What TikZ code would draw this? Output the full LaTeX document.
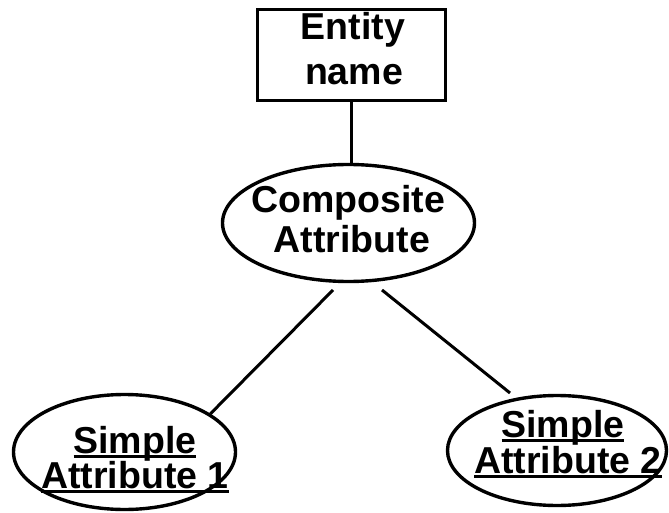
\documentclass[tikz,border=0pt]{standalone}
\usepackage{fontspec}
\setmainfont{Liberation Sans}
\usetikzlibrary{shapes.geometric}
\newsavebox\ulbox
\newcommand\myul[1]{\sbox\ulbox{#1}\rlap{\rule[-5pt]{\wd\ulbox}{2.8pt}}\usebox\ulbox}
\tikzset{
  entitybox/.style={draw, line width=3.4pt, rectangle, inner sep=0pt},
  attrell/.style={draw, line width=3.4pt, ellipse, inner sep=0pt},
  lbl/.style={font=\fontsize{37.5}{40}\selectfont\bfseries, anchor=base, inner sep=0pt},
  conn/.style={line width=3pt}
}
\begin{document}
\begin{tikzpicture}[x=1pt,y=-1pt]
\useasboundingbox (0,0) rectangle (669,513);
\node[entitybox, minimum width=188pt, minimum height=91pt] (ent) at (351.5,55) {};
\node[attrell, minimum width=252pt, minimum height=117pt] (comp) at (348.5,223) {};
\node[attrell, minimum width=222pt, minimum height=115pt] (s1) at (124.5,452) {};
\node[attrell, minimum width=219pt, minimum height=110pt] (s2) at (557,450.5) {};

\node[lbl] (t1) at (353,40) {Entity};
\node[lbl] (t2) at (354,85) {name};
\node[lbl] (t3) at (348,212) {Composite};
\node[lbl] (t4) at (352,252) {Attribute};
\node[lbl] (t5) at (135,453) {\myul{Simple}};
\node[lbl] (t6) at (135,488) {\myul{Attribute 1}};
\node[lbl] (t7) at (563,437) {\myul{Simple}};
\node[lbl] (t8) at (568,473) {\myul{Attribute 2}};

\coordinate (c1) at (333,290);
\coordinate (c2) at (382,290);
\coordinate (c3) at (510,393);
\draw[conn] (ent.south) -- (ent.south |- comp.north);
\draw[conn] (c1) -- (s1.24);
\draw[conn] (c2) -- (c3);
\end{tikzpicture}
\end{document}
